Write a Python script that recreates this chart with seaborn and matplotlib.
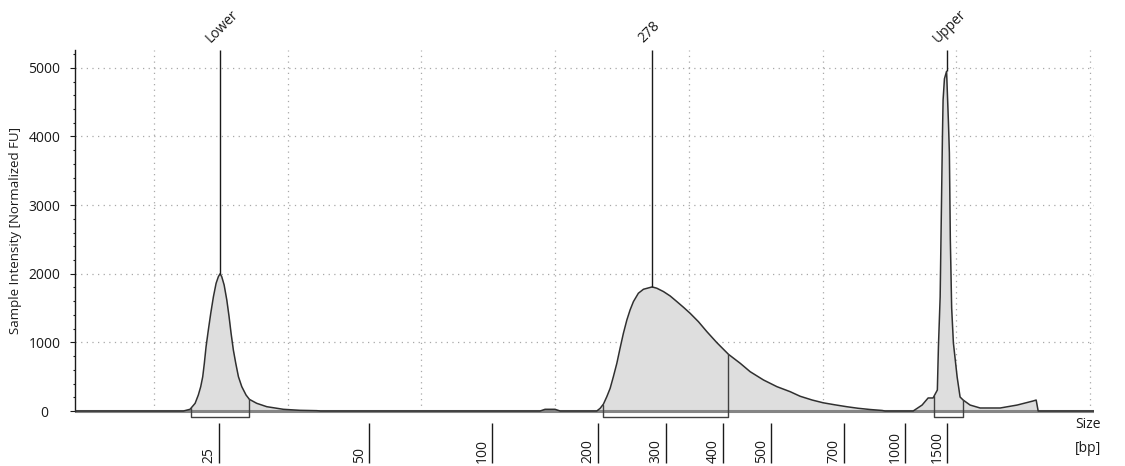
import numpy as np
import pandas as pd
import matplotlib
matplotlib.use("Agg")
import matplotlib.pyplot as plt
import seaborn as sns

# migration time [s] and normalized fluorescence
time_s = [14.09, 22.19, 22.69, 23.07, 23.31, 23.49, 23.64, 23.76, 23.89, 24.06,
          24.24, 24.44, 24.64, 24.81, 24.94, 25.06, 25.24, 25.44, 25.61, 25.76,
          25.93, 26.11, 26.31, 26.56, 26.88, 27.13, 27.68, 28.43, 29.67, 30.92,
          32.17, 32.45, 48.87, 49.24, 49.99, 50.37,
          53.11, 53.36, 53.61, 53.86, 54.11, 54.35, 54.61, 54.85, 55.10, 55.36,
          55.60, 55.85, 56.22, 56.60, 57.25, 57.60, 58.10, 58.60, 59.10, 59.59,
          60.09, 60.71, 61.34, 62.09, 62.96, 63.84, 64.58, 65.58, 66.58, 67.57,
          68.32, 69.22, 70.04, 70.93, 71.83, 72.65, 73.55, 74.45, 74.67,
          76.77, 77.44, 77.89, 78.26, 78.58, 78.66, 78.79, 78.96, 79.01, 79.11,
          79.27, 79.41, 79.48, 79.55, 79.65, 79.78, 80.06, 80.28, 80.51, 81.03,
          81.78, 83.28, 84.55, 85.74, 85.97, 86.12, 90.30]
intensity = [0, 0, 25, 112, 233, 355, 500, 695, 938, 1181,
             1424, 1666, 1861, 1958, 2000, 1958, 1837, 1618, 1375, 1132,
             889, 695, 500, 355, 233, 170, 112, 63, 25, 10,
             5, 0, 0, 25, 25, 0,
             0, 39, 102, 209, 331, 500, 695, 914, 1132, 1327,
             1472, 1594, 1716, 1774, 1808, 1789, 1740, 1676, 1594, 1512,
             1424, 1302, 1157, 996, 826, 695, 573, 452, 355, 282,
             215, 160, 120, 90, 62, 40, 22, 8, 0,
             0, 87, 190, 190, 306, 933, 1662, 3994, 4534, 4840,
             4950, 4200, 3760, 2500, 1500, 991, 496, 204, 160, 87,
             44, 44, 87, 146, 160, 0, 0]

# size ladder (bp) and their migration times
size_labels = ["25", "50", "100", "200", "300", "400", "500", "700", "1000", "1500"]
size_times = [24.86, 36.08, 45.28, 53.21, 58.29, 62.56, 66.15, 71.61, 76.17, 79.31]

# called peaks
peak_names = ["Lower", "278", "Upper"]
peak_times = [24.94, 57.25, 79.29]
peak_heights = [2000, 1808, 4950]

# integration regions
region_start = [22.77, 53.58, 78.34]
region_end = [27.11, 62.93, 80.51]

df = pd.DataFrame({"time": time_s, "fu": intensity})

sns.set_theme(style="white")
plt.rcParams["font.family"] = ["Open Sans", "DejaVu Sans"]
ink = "#1a1a1a"

fig = plt.figure(figsize=(11.25, 4.66), dpi=100)
ax = fig.add_axes([0.0667, 0.0738, 0.9058, 0.8189])
ymax = 5260
ax.set_xlim(14.09, 90.3)
ax.set_ylim(-300, ymax)

grid_kw = dict(color="#a8a8a8", lw=0.9, linestyles=(0, (1, 3.5)), zorder=0)
ax.hlines(np.arange(1000, 5001, 1000), 14.09, 90.3, **grid_kw)
ax.vlines(np.arange(20, 91, 10), 0, ymax, **grid_kw)

ax.fill_between(df["time"], 0, df["fu"], color="#dedede", lw=0, zorder=1)
ax.axhline(0, color="#858585", lw=2.2, zorder=2)
sns.lineplot(data=df, x="time", y="fu", ax=ax, color="#303030", lw=1.1,
             zorder=3, sort=False)

for x0, x1 in zip(region_start, region_end):
    y0 = np.interp(x0, df["time"], df["fu"])
    y1 = np.interp(x1, df["time"], df["fu"])
    ax.plot([x0, x0, x1, x1], [y0, -87, -87, y1], color="#404040", lw=1,
            zorder=4, clip_on=False)

for name, t, h in zip(peak_names, peak_times, peak_heights):
    ax.vlines(t, h, ymax, color=ink, lw=1, zorder=4)
    ax.annotate(name, xy=(t, ymax), xytext=(-9, 7), textcoords="offset pixels",
                rotation=45, ha="left", va="baseline", rotation_mode="anchor",
                fontsize=10, color=ink, annotation_clip=False)

ax.vlines(size_times, -758, -175, color=ink, lw=1, clip_on=False)
for lbl, t in zip(size_labels, size_times):
    ax.annotate(lbl, xy=(t, -758), xytext=(-10, 0), textcoords="offset pixels",
                rotation=90, ha="center", va="bottom", fontsize=10,
                color=ink, annotation_clip=False)

fig.text(1075 / 1125, 1 - 425 / 466, "Size", ha="left", va="center",
         fontsize=10, color=ink)
fig.text(1075 / 1125, 1 - 448 / 466, "[bp]", ha="left", va="center",
         fontsize=10, color=ink)

for side in ["top", "right", "bottom"]:
    ax.spines[side].set_visible(False)
ax.spines["left"].set_color(ink)
ax.spines["left"].set_linewidth(1)
ax.spines["left"].set_bounds(0, ymax)

ax.set_xticks([])
ax.set_yticks(np.arange(0, 5001, 1000))
ax.set_yticks(np.arange(200, 5201, 200), minor=True)
ax.tick_params(axis="y", which="major", direction="out", length=3.6, width=0.8,
               color=ink, pad=18.5, labelsize=10, labelcolor=ink, left=True)
ax.tick_params(axis="y", which="minor", direction="out", length=1.8, width=0.8,
               color=ink, left=True)
for lbl in ax.get_yticklabels():
    lbl.set_horizontalalignment("center")

ax.set_xlabel("")
ax.set_ylabel("Sample Intensity [Normalized FU]", fontsize=9.5, color=ink)
ax.yaxis.set_label_coords(-0.052, 0.528)

fig.savefig("out.png", dpi=100)
